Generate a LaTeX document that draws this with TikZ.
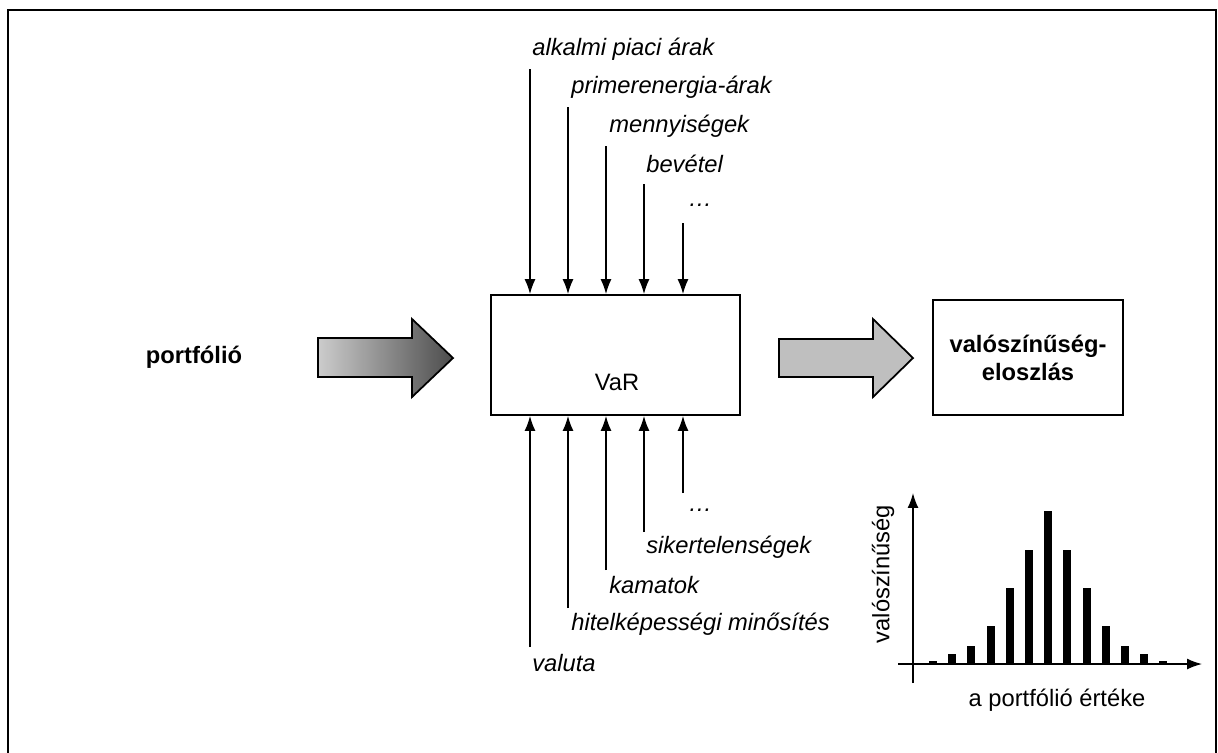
\documentclass[tikz,border=0pt]{standalone}
\usepackage{fontspec}
\setmainfont{Liberation Sans}
\usetikzlibrary{arrows.meta,positioning}

\begin{document}
\begin{tikzpicture}[x=0.02cm,y=-0.02cm,>=Latex,
  txt/.style={font=\fontsize{13.5}{16}\selectfont,inner sep=0pt},
  boldtxt/.style={font=\fontsize{13.5}{16}\selectfont\bfseries,inner sep=0pt,align=center},
  inlbl/.style={font=\fontsize{13.5}{16}\selectfont\itshape,inner sep=0pt,anchor=west},
  blockbox/.style={draw,line width=1pt,inner sep=0pt},
  inarr/.style={-{Latex[length=8.5pt,width=6.2pt]},line width=0.8pt},
  fatarr/.style={draw,line width=1pt},
  bar/.style={fill=black,draw=none}]
\useasboundingbox (0,0) rectangle (1218,752);
% outer frame (bottom edge is cut off)
\draw[line width=1.4pt] (8,770) -- (8,10) -- (1216,10) -- (1216,770);

% main blocks
\node[blockbox,minimum width=4.98cm,minimum height=2.4cm] (var) at (615.5,355) {};
\node[txt] (vartxt) at (617,382) {VaR};
\node[blockbox,minimum width=3.8cm,minimum height=2.3cm,boldtxt,font=\fontsize{13.5}{16}\selectfont\bfseries,align=center] (dist) at (1028,357.5) {\baselineskip=28\dimexpr0.02cm\relax valószínűség-\\eloszlás};
\node[boldtxt] (port) at (194,357) {portfólió};

% big arrows
\draw[fatarr,left color=black!20,right color=black!70] (318,338) -- (412,338) -- (412,319) -- (453,358) -- (412,397) -- (412,377) -- (318,377) -- cycle;
\draw[fatarr,fill=black!25] (779,339) -- (873,339) -- (873,319) -- (913,358) -- (873,397) -- (873,377) -- (779,377) -- cycle;

% inputs from above
\coordinate (t0) at (530,69);
\coordinate (t1) at (568,107);
\coordinate (t2) at (606,146);
\coordinate (t3) at (644,184);
\coordinate (t4) at (683,223);
\node[inlbl] (lt0) at (532,49) {alkalmi piaci árak};
\node[inlbl] (lt1) at (571,87) {primerenergia-árak};
\node[inlbl] (lt2) at (609,126) {mennyiségek};
\node[inlbl] (lt3) at (646,164) {bevétel};
\node[inlbl] (lt4) at (688,205) {\ldots};
\draw[inarr] (t0) -- (t0 |- var.north);
\draw[inarr] (t1) -- (t1 |- var.north);
\draw[inarr] (t2) -- (t2 |- var.north);
\draw[inarr] (t3) -- (t3 |- var.north);
\draw[inarr] (t4) -- (t4 |- var.north);

% inputs from below
\coordinate (b0) at (530,647);
\coordinate (b1) at (568,608);
\coordinate (b2) at (606,570);
\coordinate (b3) at (644,532);
\coordinate (b4) at (683,493);
\node[inlbl] (lb0) at (532,663) {valuta};
\node[inlbl] (lb1) at (571,624) {hitelképességi minősítés};
\node[inlbl] (lb2) at (609,585) {kamatok};
\node[inlbl] (lb3) at (646,547) {sikertelenségek};
\node[inlbl] (lb4) at (688,510) {\ldots};
\draw[inarr] (b0) -- (b0 |- var.south);
\draw[inarr] (b1) -- (b1 |- var.south);
\draw[inarr] (b2) -- (b2 |- var.south);
\draw[inarr] (b3) -- (b3 |- var.south);
\draw[inarr] (b4) -- (b4 |- var.south);

% histogram
\coordinate (ybot) at (913,683);
\coordinate (ytop) at (913,493);
\coordinate (xleft) at (898,664);
\coordinate (xright) at (1202,664);
\foreach \h [count=\i from 0] in {2.7,10.3,18.3,37.7,76,114.3,152.7,114.3,76,37.7,18.3,10.3,2.7}
  \fill[bar] (929+19.2*\i,664) rectangle ++(8,-\h);
\draw[inarr] (ybot) -- (ytop);
\draw[inarr] (xleft) -- (xright);
\node[txt,rotate=90] (ylbl) at (883,574) {valószínűség};
\node[txt] (xlbl) at (1057,700) {a portfólió értéke};
\end{tikzpicture}
\end{document}
